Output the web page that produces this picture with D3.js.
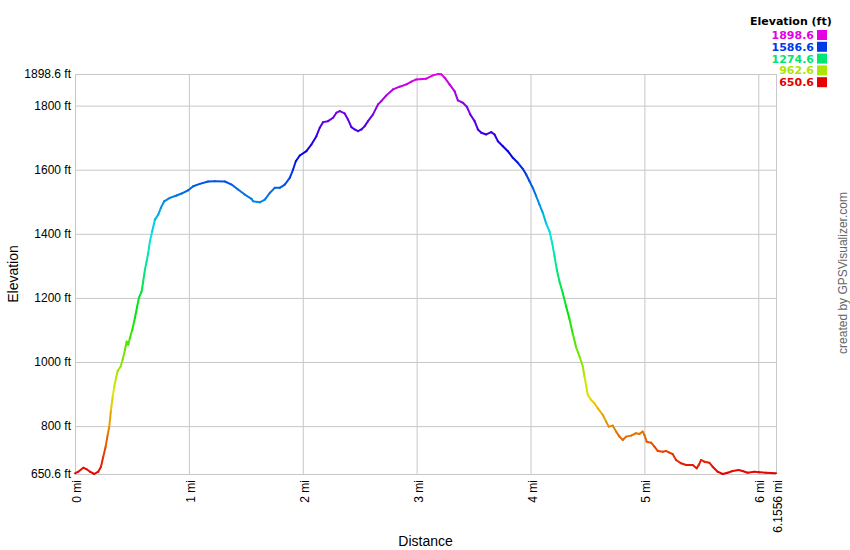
<!DOCTYPE html>
<html><head><meta charset="utf-8">
<script src="https://cdn.jsdelivr.net/npm/d3@7"></script>
<style>
body{margin:0;background:#fff;}
svg{display:block;font-family:"Liberation Sans",Arial,sans-serif;}
</style></head>
<body><svg id="c" width="850" height="550"></svg>
<script>
const distance = [0.000,0.029,0.073,0.103,0.132,0.169,0.204,0.228,0.248,0.269,0.287,0.301,0.316,0.331,0.345,0.360,0.375,0.401,0.418,0.439,0.454,0.468,0.482,0.503,0.526,0.546,0.561,0.585,0.599,0.614,0.629,0.643,0.658,0.678,0.702,0.731,0.754,0.783,0.833,0.892,0.936,0.994,1.038,1.096,1.169,1.228,1.316,1.375,1.432,1.491,1.550,1.564,1.623,1.667,1.711,1.754,1.798,1.842,1.886,1.915,1.939,1.974,2.032,2.076,2.120,2.149,2.178,2.222,2.266,2.296,2.325,2.368,2.397,2.427,2.456,2.485,2.515,2.544,2.573,2.617,2.661,2.690,2.734,2.792,2.851,2.910,2.954,2.997,3.085,3.143,3.190,3.217,3.246,3.289,3.333,3.362,3.406,3.441,3.471,3.509,3.538,3.568,3.611,3.655,3.684,3.713,3.757,3.801,3.845,3.889,3.932,3.962,3.991,4.020,4.050,4.079,4.108,4.138,4.167,4.190,4.211,4.231,4.254,4.283,4.313,4.342,4.371,4.401,4.430,4.445,4.459,4.474,4.503,4.532,4.561,4.590,4.634,4.664,4.687,4.722,4.752,4.781,4.810,4.839,4.883,4.927,4.956,4.985,5.000,5.020,5.059,5.088,5.117,5.161,5.190,5.219,5.248,5.278,5.322,5.366,5.424,5.459,5.477,5.498,5.526,5.570,5.599,5.643,5.687,5.731,5.775,5.827,5.862,5.906,5.965,6.009,6.068,6.1556];
const elevation = [652.8,657.8,670.3,665.3,657.8,650.6,657.8,673.4,704.7,735.9,772.5,798.4,850.6,892.2,923.4,949.7,972.5,985.9,1006.9,1038.1,1064.0,1053.7,1074.7,1100.6,1137.2,1173.4,1199.7,1220.3,1251.5,1288.1,1314.0,1340.3,1376.5,1407.8,1444.4,1460.0,1480.9,1501.5,1512.2,1519.4,1525.6,1535.9,1548.4,1555.9,1563.1,1564.0,1563.1,1553.7,1538.1,1522.5,1509.0,1501.5,1498.4,1506.9,1527.8,1543.4,1543.4,1553.7,1574.7,1600.6,1626.5,1644.4,1657.8,1678.7,1704.7,1730.9,1748.4,1751.5,1762.2,1777.8,1782.8,1775.6,1756.9,1732.8,1725.6,1720.3,1725.6,1735.9,1751.5,1772.5,1803.7,1814.0,1831.9,1850.6,1859.0,1866.2,1874.7,1881.8,1884.0,1894.4,1898.6,1897.5,1887.1,1866.2,1845.3,1816.2,1809.0,1796.5,1772.5,1751.5,1725.6,1715.3,1710.0,1717.2,1710.0,1689.0,1673.4,1657.8,1637.2,1621.5,1602.8,1585.0,1564.0,1543.4,1517.2,1491.2,1465.3,1431.9,1407.8,1371.5,1329.7,1288.1,1251.5,1215.3,1173.4,1134.0,1088.1,1045.9,1017.2,1001.5,985.9,954.7,897.5,881.9,871.5,855.9,835.0,814.0,798.4,801.5,782.8,767.2,756.9,767.2,770.3,777.8,775.6,782.8,772.5,751.5,748.4,735.9,722.5,720.3,722.5,717.2,713.1,694.4,684.0,678.7,678.7,668.4,678.7,694.4,689.0,685.9,673.4,657.8,650.6,654.7,660.0,663.1,660.0,654.7,657.8,655.9,654.7,652.8];
const yTicks = [650.6,800,1000,1200,1400,1600,1800,1898.6];
const yTickLabels = ["650.6 ft","800 ft","1000 ft","1200 ft","1400 ft","1600 ft","1800 ft","1898.6 ft"];
const xTicks = [0,1,2,3,4,5,6,6.1556];
const xTickLabels = ["0 mi","1 mi","2 mi","3 mi","4 mi","5 mi","6 mi","6.1556 mi"];
const legendValues = [1898.6,1586.6,1274.6,962.6,650.6];
const legendTitle = "Elevation (ft)";
const xTitle = "Distance", yTitle = "Elevation", credit = "created by GPSVisualizer.com";

const eMin = 650.6, eMax = 1898.6;
const svg = d3.select("#c");
const L = 75, R = 776, T = 74, B = 474;
const x = d3.scaleLinear().domain([0, 6.1556]).range([L, R]);
const y = d3.scaleLinear().domain([eMin, eMax]).range([B, T]);
const hue = d3.scaleLinear().domain([eMin, eMax]).range([0, 300]);
const col = e => d3.hsl(hue(e), 1, 0.45).formatHex();

// y grid + labels
const ya = svg.append("g").attr("transform", `translate(${L},0)`)
  .call(d3.axisLeft(y).tickValues(yTicks).tickSize(-(R - L)).tickPadding(4)
    .tickFormat((d, i) => yTickLabels[i]));
ya.select(".domain").remove();
ya.selectAll("line").attr("stroke", "#c8c8c8");
ya.selectAll("text").attr("font-size", 12).attr("fill", "#000").attr("font-family", "Liberation Sans, Arial, sans-serif");

// x grid + labels
const xa = svg.append("g").attr("transform", `translate(0,${B})`)
  .call(d3.axisBottom(x).tickValues(xTicks).tickSize(-(B - T)).tickFormat((d, i) => xTickLabels[i]));
xa.select(".domain").remove();
xa.selectAll("line").attr("stroke", "#c8c8c8");
xa.selectAll("text").attr("font-size", 12).attr("fill", "#000")
  .attr("font-family", "Liberation Sans, Arial, sans-serif")
  .attr("text-anchor", "end").attr("dy", null).attr("y", null)
  .attr("transform", "translate(5.5,6) rotate(-90)");

// line segments colored by elevation
const pts = distance.map((d, i) => [d, elevation[i]]);
const seg = d3.pairs(pts);
svg.append("g").selectAll("line").data(seg).join("line")
  .attr("x1", d => x(d[0][0])).attr("y1", d => y(d[0][1]))
  .attr("x2", d => x(d[1][0])).attr("y2", d => y(d[1][1]))
  .attr("stroke", d => col((d[0][1] + d[1][1]) / 2))
  .attr("stroke-width", 2).attr("stroke-linecap", "round");

// axis titles
svg.append("text").attr("x", (L + R) / 2).attr("y", 546).attr("text-anchor", "middle")
  .attr("font-size", 14).text(xTitle);
svg.append("text").attr("transform", `translate(18,${(T + B) / 2}) rotate(-90)`)
  .attr("text-anchor", "middle").attr("font-size", 14).text(yTitle);
svg.append("text").attr("transform", `translate(847,${(T + B) / 2 - 1}) rotate(-90)`)
  .attr("text-anchor", "middle").attr("font-size", 12).attr("fill", "#666").text(credit);

// legend
const lg = svg.append("g").attr("font-family", "DejaVu Sans, Verdana, sans-serif").attr("font-weight", "bold").attr("font-size", 11);
lg.append("text").attr("x", 750).attr("y", 25).attr("fill", "#000").text(legendTitle);
const rows = lg.selectAll("g.r").data(legendValues).join("g").attr("class", "r")
  .attr("transform", (d, i) => `translate(0,${35 + i * 11.8})`);
rows.append("text").attr("x", 814).attr("y", 4).attr("text-anchor", "end")
  .attr("fill", d => col(d)).text(d => d.toFixed(1));
rows.append("rect").attr("x", 817).attr("y", -5).attr("width", 10).attr("height", 10)
  .attr("fill", d => col(d));
</script></body></html>
